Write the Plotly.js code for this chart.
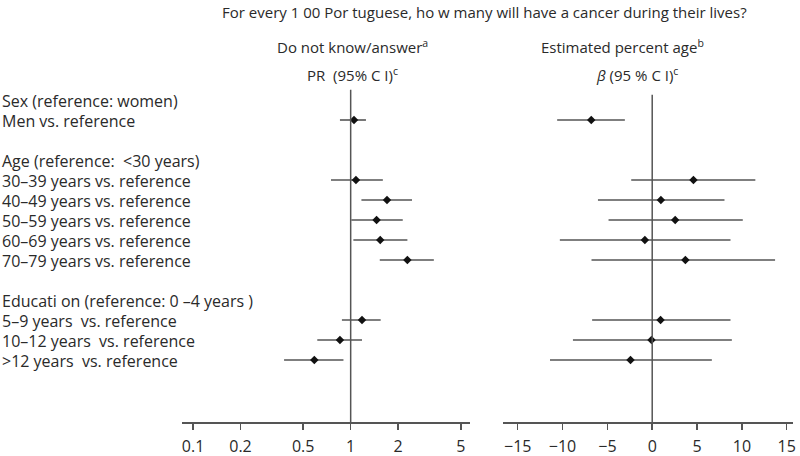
<!DOCTYPE html>
<html>
<head>
<meta charset="utf-8">
<script src="https://cdn.plot.ly/plotly-3.0.1.min.js"></script>
<style>html,body{margin:0;padding:0;background:#fff;}#chart{width:800px;height:456px;}</style>
</head>
<body>
<div id="chart"></div>
<script>
// Row labels (top to bottom)
const rowLabels = [
  "Sex (reference: women)",
  "Men vs. reference",
  "",
  "Age (reference:  <30 years)",
  "30\u201339 years vs. reference",
  "40\u201349 years vs. reference",
  "50\u201359 years vs. reference",
  "60\u201369 years vs. reference",
  "70\u201379 years vs. reference",
  "",
  "Educati on (reference: 0 \u20134 years )",
  "5\u20139 years  vs. reference",
  "10\u201312 years  vs. reference",
  ">12 years  vs. reference"
];
// Row indices of the estimates
const estRows = [1, 4, 5, 6, 7, 8, 11, 12, 13];

// Do not know/answer: prevalence ratio (95% CI)
const prEst   = [1.05, 1.08, 1.70, 1.46, 1.54, 2.29, 1.18, 0.855, 0.588];
const prLower = [0.855, 0.75, 1.17, 1.01, 1.04, 1.53, 0.88, 0.614, 0.378];
const prUpper = [1.25, 1.60, 2.45, 2.14, 2.29, 3.37, 1.55, 1.18, 0.90];

// Estimated percentage: beta (95% CI)
const bEst   = [-6.8, 4.6, 0.97, 2.56, -0.82, 3.7, 0.93, -0.08, -2.42];
const bLower = [-10.6, -2.34, -6.05, -4.87, -10.3, -6.77, -6.7, -8.84, -11.4];
const bUpper = [-3.05, 11.5, 8.06, 10.1, 8.73, 13.7, 8.73, 8.88, 6.65];

const prTicks = [0.1, 0.2, 0.5, 1, 2, 5];
const bTicks = [-15, -10, -5, 0, 5, 10, 15];

const FONT = "Open Sans, Noto Sans, DejaVu Sans, sans-serif";
const TXT = "#2a2a2a";
const LINE = "#555555";

const traces = [
  {
    type: "scatter", mode: "markers", xaxis: "x", yaxis: "y",
    x: prEst, y: estRows,
    marker: {symbol: "diamond", size: 6.5, color: "#111"},
    error_x: {type: "data", symmetric: false,
      array: prUpper.map((u, i) => u - prEst[i]),
      arrayminus: prLower.map((l, i) => prEst[i] - l),
      color: LINE, thickness: 1.6, width: 0},
    hoverinfo: "skip"
  },
  {
    type: "scatter", mode: "markers", xaxis: "x2", yaxis: "y",
    x: bEst, y: estRows,
    marker: {symbol: "diamond", size: 6.5, color: "#111"},
    error_x: {type: "data", symmetric: false,
      array: bUpper.map((u, i) => u - bEst[i]),
      arrayminus: bLower.map((l, i) => bEst[i] - l),
      color: LINE, thickness: 1.6, width: 0},
    hoverinfo: "skip"
  }
];

const annotations = rowLabels.map((t, i) => ({
  text: t, xref: "paper", yref: "y", x: 0, y: i, yshift: -1,
  xanchor: "left", yanchor: "middle", showarrow: false,
  font: {family: FONT, size: 16, color: TXT}
})).filter(a => a.text !== "");

annotations.push(
  {text: "For every 1 00 Por tuguese, ho w many will have a cancer during their lives?",
   xref: "paper", yref: "paper", x: 485/800, y: 1, yshift: 76, xanchor: "center", yanchor: "middle",
   showarrow: false, font: {family: FONT, size: 15, color: TXT}},
  {text: "Do not know/answer<sup>a</sup>",
   xref: "paper", yref: "paper", x: 352/800, y: 1, yshift: 42, xanchor: "center", yanchor: "middle",
   showarrow: false, font: {family: FONT, size: 15, color: TXT}},
  {text: "PR  (95% C I)<sup>c</sup>",
   xref: "paper", yref: "paper", x: 352/800, y: 1, yshift: 14, xanchor: "center", yanchor: "middle",
   showarrow: false, font: {family: FONT, size: 15, color: TXT}},
  {text: "Estimated percent age<sup>b</sup>",
   xref: "paper", yref: "paper", x: 622/800, y: 1, yshift: 42, xanchor: "center", yanchor: "middle",
   showarrow: false, font: {family: FONT, size: 15, color: TXT}},
  {text: "<i>\u03b2</i> (95 % C I)<sup>c</sup>",
   xref: "paper", yref: "paper", x: 637/800, y: 1, yshift: 14, xanchor: "center", yanchor: "middle",
   showarrow: false, font: {family: FONT, size: 15, color: TXT}}
);

const axisCommon = {
  showgrid: false, zeroline: false, showline: true, linecolor: LINE, linewidth: 1.5,
  ticks: "outside", ticklen: 6, tickwidth: 1.5, tickcolor: LINE, ticklabelstandoff: 3,
  tickfont: {family: FONT, size: 16, color: TXT}, anchor: "y", fixedrange: true
};

const layout = {
  width: 800, height: 456,
  margin: {l: 0, r: 0, t: 88, b: 34},
  paper_bgcolor: "#fff", plot_bgcolor: "#fff",
  showlegend: false,
  font: {family: FONT, size: 15, color: TXT},
  xaxis: Object.assign({}, axisCommon, {
    type: "log", domain: [182/800, 470/800], range: [-1.070, 0.757],
    tickvals: prTicks, ticktext: prTicks.map(String)
  }),
  xaxis2: Object.assign({}, axisCommon, {
    domain: [503/800, 793/800], range: [-16.64, 15.7],
    tickvals: bTicks, ticktext: bTicks.map(v => v < 0 ? "\u2212" + Math.abs(v) : String(v))
  }),
  yaxis: {range: [16.1, -0.6], visible: false, showgrid: false, zeroline: false, fixedrange: true},
  shapes: [
    {type: "line", xref: "x", yref: "paper", x0: 1, x1: 1, y0: 0, y1: 0.995,
     line: {color: LINE, width: 1.5}},
    {type: "line", xref: "x2", yref: "paper", x0: 0, x1: 0, y0: 0, y1: 0.98,
     line: {color: LINE, width: 1.5}}
  ],
  annotations: annotations
};

Plotly.newPlot("chart", traces, layout, {staticPlot: true, displayModeBar: false});
</script>
</body>
</html>
